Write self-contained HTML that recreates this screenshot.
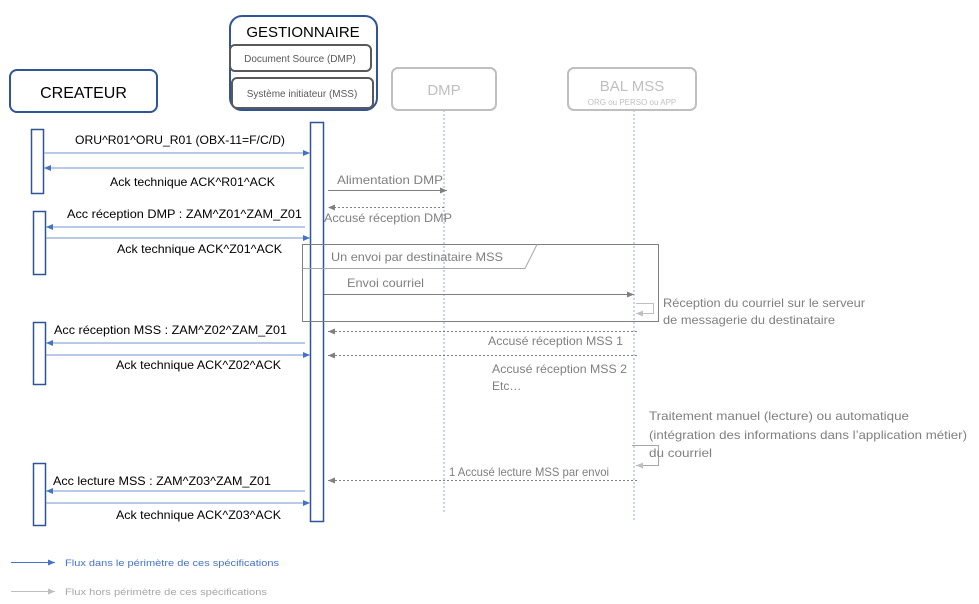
<!DOCTYPE html>
<html><head><meta charset="utf-8"><style>
html,body{margin:0;padding:0;background:#fff;}
svg{display:block;font-family:"Liberation Sans",sans-serif;}
</style></head><body>
<svg width="979" height="604" viewBox="0 0 979 604" xmlns="http://www.w3.org/2000/svg">
<defs>
<marker id="ab" markerWidth="8" markerHeight="8" refX="7" refY="4" orient="auto" markerUnits="userSpaceOnUse"><path d="M0,1 L7,4 L0,7z" fill="#4472c4"/></marker>
<marker id="ag" markerWidth="8" markerHeight="8" refX="7" refY="4" orient="auto" markerUnits="userSpaceOnUse"><path d="M0,1 L7,4 L0,7z" fill="#7f7f7f"/></marker>
<marker id="al" markerWidth="8" markerHeight="8" refX="7" refY="4" orient="auto" markerUnits="userSpaceOnUse"><path d="M0,1 L7,4 L0,7z" fill="#bfbfbf"/></marker>
</defs>
<line x1="444" y1="110" x2="444" y2="512" stroke="#8faadc" stroke-dasharray="2,2"/>
<line x1="634" y1="110" x2="634" y2="520" stroke="#8faadc" stroke-dasharray="2,2"/>
<rect x="10" y="70" width="147" height="42" rx="7" fill="#fff" stroke="#2f5597" stroke-width="2"/>
<text x="83.5" y="98" font-size="16" text-anchor="middle" fill="#000">CREATEUR</text>
<rect x="230" y="16" width="147" height="94" rx="12" fill="#fff" stroke="#2f5597" stroke-width="2"/>
<text x="303" y="37" font-size="15" text-anchor="middle" fill="#000">GESTIONNAIRE</text>
<rect x="230" y="45" width="141" height="26" rx="5" fill="#fff" stroke="#595959" stroke-width="2"/>
<text x="300" y="62" font-size="10" text-anchor="middle" fill="#595959">Document Source (DMP)</text>
<rect x="232" y="78" width="141" height="30" rx="5" fill="#fff" stroke="#595959" stroke-width="2"/>
<text x="302" y="97" font-size="10" text-anchor="middle" fill="#595959">Système initiateur (MSS)</text>
<rect x="392" y="68" width="104" height="42" rx="6" fill="#fff" stroke="#bfbfbf" stroke-width="2"/>
<text x="444" y="95" font-size="15" text-anchor="middle" fill="#bfbfbf">DMP</text>
<rect x="568" y="68" width="128" height="42" rx="6" fill="#fff" stroke="#bfbfbf" stroke-width="2"/>
<text x="632" y="91" font-size="15" text-anchor="middle" fill="#bfbfbf">BAL MSS</text>
<text x="632" y="105" font-size="8" text-anchor="middle" fill="#bfbfbf">ORG ou PERSO ou APP</text>
<rect x="31.5" y="129.5" width="12" height="64" fill="#fff" stroke="#2f5597" stroke-width="1.5"/>
<rect x="33.5" y="211.5" width="12" height="63" fill="#fff" stroke="#2f5597" stroke-width="1.5"/>
<rect x="33.5" y="322.5" width="12" height="62" fill="#fff" stroke="#2f5597" stroke-width="1.5"/>
<rect x="33.5" y="463.5" width="12" height="62" fill="#fff" stroke="#2f5597" stroke-width="1.5"/>
<rect x="310.5" y="122.5" width="13" height="399" fill="#fff" stroke="#2f5597" stroke-width="1.5"/>
<g stroke="#8faadc" stroke-width="1.2" fill="none">
<line x1="44" y1="153" x2="310" y2="153" marker-end="url(#ab)"/>
<line x1="304" y1="168" x2="44" y2="168" marker-end="url(#ab)"/>
<line x1="305" y1="227" x2="46" y2="227" marker-end="url(#ab)"/>
<line x1="46" y1="238" x2="310" y2="238" marker-end="url(#ab)"/>
<line x1="305" y1="343" x2="46" y2="343" marker-end="url(#ab)"/>
<line x1="46" y1="355" x2="310" y2="355" marker-end="url(#ab)"/>
<line x1="305" y1="491" x2="46" y2="491" marker-end="url(#ab)"/>
<line x1="46" y1="503" x2="310" y2="503" marker-end="url(#ab)"/>
</g>
<g font-size="12" fill="#000">
<text x="75" y="144" textLength="210" lengthAdjust="spacingAndGlyphs">ORU^R01^ORU_R01 (OBX-11=F/C/D)</text>
<text x="110" y="186" textLength="165" lengthAdjust="spacingAndGlyphs">Ack technique ACK^R01^ACK</text>
<text x="67" y="218" textLength="235" lengthAdjust="spacingAndGlyphs">Acc réception DMP : ZAM^Z01^ZAM_Z01</text>
<text x="117" y="253" textLength="165" lengthAdjust="spacingAndGlyphs">Ack technique ACK^Z01^ACK</text>
<text x="54" y="334" textLength="233" lengthAdjust="spacingAndGlyphs">Acc réception MSS : ZAM^Z02^ZAM_Z01</text>
<text x="116" y="369" textLength="165" lengthAdjust="spacingAndGlyphs">Ack technique ACK^Z02^ACK</text>
<text x="53" y="485" textLength="218" lengthAdjust="spacingAndGlyphs">Acc lecture MSS : ZAM^Z03^ZAM_Z01</text>
<text x="116" y="519" textLength="165" lengthAdjust="spacingAndGlyphs">Ack technique ACK^Z03^ACK</text>
</g>
<g stroke="#7f7f7f" fill="none">
<line x1="328" y1="190.5" x2="447" y2="190.5" marker-end="url(#ag)"/>
<line x1="444" y1="207.5" x2="328" y2="207.5" stroke-dasharray="2,2" marker-end="url(#ag)"/>
<line x1="324" y1="294.5" x2="634" y2="294.5" marker-end="url(#ag)"/>
<line x1="637" y1="331.5" x2="328" y2="331.5" stroke-dasharray="2,2" marker-end="url(#ag)"/>
<line x1="637" y1="355.5" x2="328" y2="355.5" stroke-dasharray="2,2" marker-end="url(#ag)"/>
<line x1="637" y1="480.5" x2="328" y2="480.5" stroke-dasharray="2,2" marker-end="url(#ag)"/>
</g>
<polyline points="636,303.5 653.5,303.5 653.5,313.5 636,313.5" fill="none" stroke="#bfbfbf" marker-end="url(#al)"/>
<polyline points="632,445.5 658.5,445.5 658.5,465.5 636,465.5" fill="none" stroke="#a6a6a6" marker-end="url(#al)"/>
<rect x="302.5" y="244.5" width="356" height="77" fill="none" stroke="#7f7f7f"/>
<polyline points="302.5,268.5 525,268.5 537,244.5" fill="none" stroke="#a6a6a6"/>
<g font-size="12" fill="#7f7f7f">
<text x="337" y="184" textLength="106" lengthAdjust="spacingAndGlyphs">Alimentation DMP</text>
<text x="324" y="222" textLength="128" lengthAdjust="spacingAndGlyphs">Accusé réception DMP</text>
<text x="331" y="261" textLength="172" lengthAdjust="spacingAndGlyphs">Un envoi par destinataire MSS</text>
<text x="347" y="287" textLength="77" lengthAdjust="spacingAndGlyphs">Envoi courriel</text>
<text x="663" y="307" textLength="202" lengthAdjust="spacingAndGlyphs">Réception du courriel sur le serveur</text>
<text x="663" y="324" textLength="172" lengthAdjust="spacingAndGlyphs">de messagerie du destinataire</text>
<text x="488" y="345" textLength="135" lengthAdjust="spacingAndGlyphs">Accusé réception MSS 1</text>
<text x="492" y="373" textLength="135" lengthAdjust="spacingAndGlyphs">Accusé réception MSS 2</text>
<text x="492" y="390">Etc…</text>
<text x="449" y="476" textLength="160" lengthAdjust="spacingAndGlyphs">1 Accusé lecture MSS par envoi</text>
<text x="649" y="420" textLength="260" lengthAdjust="spacingAndGlyphs">Traitement manuel (lecture) ou automatique</text>
<text x="649" y="439" textLength="318" lengthAdjust="spacingAndGlyphs">(intégration des informations dans l’application métier)</text>
<text x="649" y="457" textLength="63" lengthAdjust="spacingAndGlyphs">du courriel</text>
</g>
<line x1="11" y1="562.5" x2="55" y2="562.5" stroke="#4472c4" marker-end="url(#ab)"/>
<text x="65" y="566" font-size="9.5" fill="#4472c4" textLength="214" lengthAdjust="spacingAndGlyphs">Flux dans le périmètre de ces spécifications</text>
<line x1="11" y1="591.5" x2="55" y2="591.5" stroke="#bfbfbf" marker-end="url(#al)"/>
<text x="65" y="595" font-size="9.5" fill="#a6a6a6" textLength="202" lengthAdjust="spacingAndGlyphs">Flux hors périmètre de ces spécifications</text>
</svg>
</body></html>
